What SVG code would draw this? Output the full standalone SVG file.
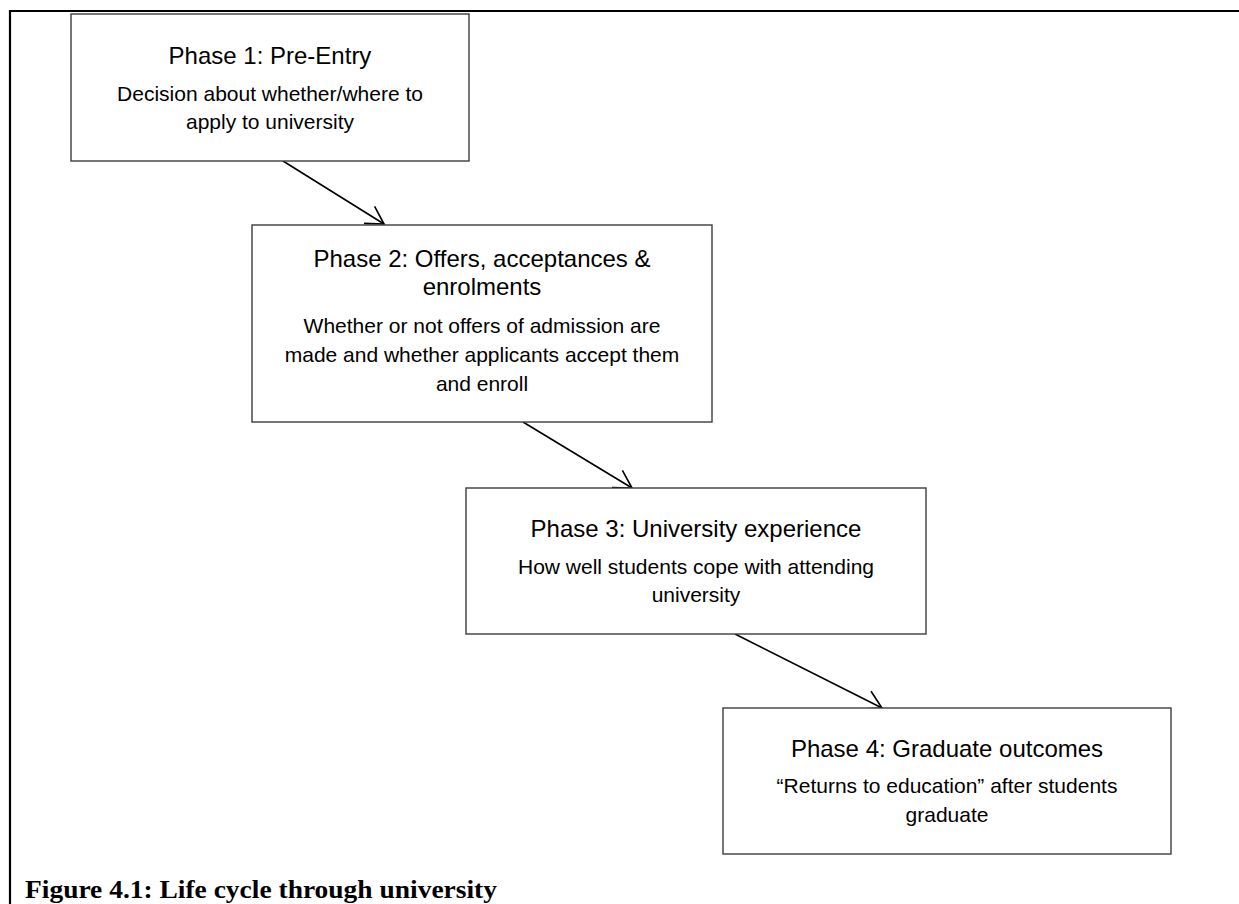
<svg xmlns="http://www.w3.org/2000/svg" width="1239" height="904" viewBox="0 0 1239 904">
<style>
.box{fill:#fff;stroke:#3c3c3c;stroke-width:1.4}
.title{font-family:"Liberation Sans",Arial,sans-serif;font-size:24px;fill:#000;text-anchor:middle}
.body{font-family:"Liberation Sans",Arial,sans-serif;font-size:21px;fill:#000;text-anchor:middle}
.conn{stroke:#000;stroke-width:1.6;fill:none;marker-end:url(#arr)}
.frame{stroke:#000;stroke-width:2.2;fill:none}
.cap{font-family:"Liberation Serif","Times New Roman",serif;font-weight:bold;font-size:25px;fill:#000}
</style>
<defs>
<marker id="arr" markerUnits="userSpaceOnUse" markerWidth="30" markerHeight="30" viewBox="-25 -15 30 30" refX="0" refY="0" orient="auto">
<path d="M-17.3,-10 L0,0 L-17.3,10" fill="none" stroke="#000" stroke-width="1.6"/>
</marker>
</defs>
<rect width="1239" height="904" fill="#fff"/>
<path class="frame" d="M10,904 L10,11 L1239,11"/>
<g id="connectors">
<line class="conn" x1="283" y1="161" x2="384" y2="224"/>
<line class="conn" x1="523" y1="422" x2="632" y2="488"/>
<line class="conn" x1="735" y1="634" x2="882" y2="708"/>
</g>
<g id="phase1">
<rect class="box" x="71" y="14" width="398" height="147"/>
<text class="title" x="270" y="64">Phase 1: Pre-Entry</text>
<text class="body" x="270" y="101">Decision about whether/where to</text>
<text class="body" x="270" y="129">apply to university</text>
</g>
<g id="phase2">
<rect class="box" x="252" y="225" width="460" height="197"/>
<text class="title" x="482" y="267">Phase 2: Offers, acceptances &amp;</text>
<text class="title" x="482" y="295">enrolments</text>
<text class="body" x="482" y="333">Whether or not offers of admission are</text>
<text class="body" x="482" y="362">made and whether applicants accept them</text>
<text class="body" x="482" y="391">and enroll</text>
</g>
<g id="phase3">
<rect class="box" x="466" y="488" width="460" height="146"/>
<text class="title" x="696" y="537">Phase 3: University experience</text>
<text class="body" x="696" y="574">How well students cope with attending</text>
<text class="body" x="696" y="602">university</text>
</g>
<g id="phase4">
<rect class="box" x="723" y="708" width="448" height="146"/>
<text class="title" x="947" y="757">Phase 4: Graduate outcomes</text>
<text class="body" x="947" y="793">“Returns to education” after students</text>
<text class="body" x="947" y="822">graduate</text>
</g>
<text class="cap" x="25" y="898" textLength="472" lengthAdjust="spacingAndGlyphs">Figure 4.1: Life cycle through university</text>
</svg>
